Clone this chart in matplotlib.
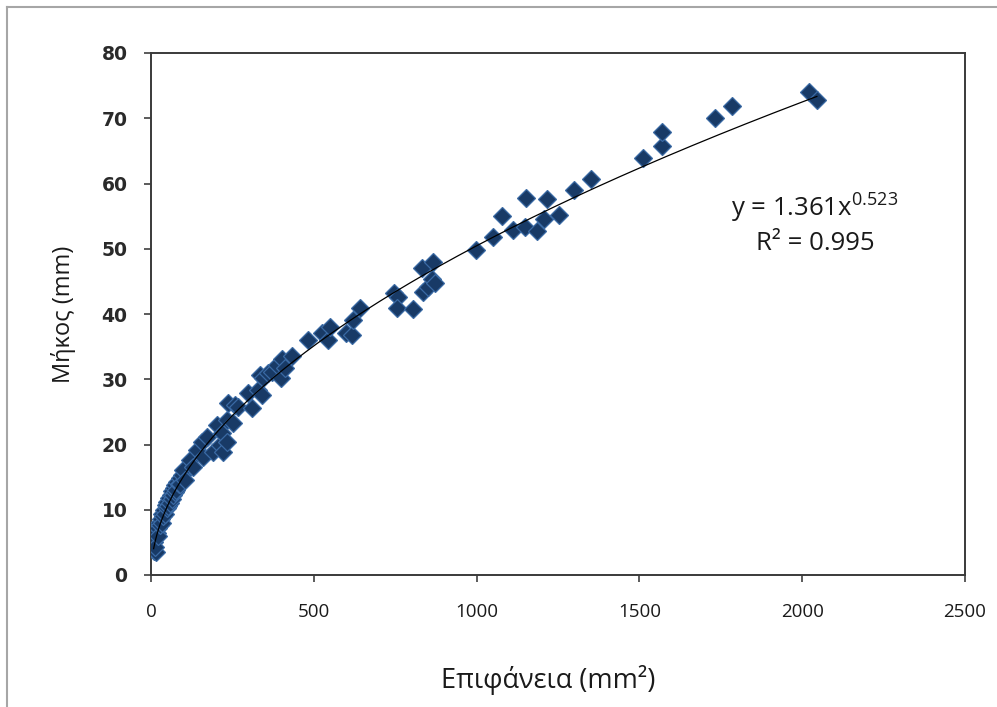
import matplotlib
matplotlib.use("Agg")
import matplotlib.pyplot as plt
from matplotlib.lines import Line2D
import numpy as np

plt.rcParams["font.family"] = ["Open Sans", "DejaVu Sans"]
plt.rcParams["mathtext.fontset"] = "custom"
plt.rcParams["mathtext.rm"] = "Open Sans"
plt.rcParams["mathtext.it"] = "Open Sans"

# surface (mm^2) vs length (mm)
area = [
    8, 15, 10, 12, 18, 20, 22, 25, 28, 30, 33, 35, 38, 40, 43, 45, 48, 50,
    53, 55, 58, 60, 63, 65, 68, 70, 73, 75, 78, 80, 85, 88, 90, 95,
    98, 104, 120, 129, 141, 157, 160, 172, 190, 203, 212, 218, 222, 233, 233,
    237, 252, 258, 267, 298, 310, 329, 335, 340, 345, 360, 371, 387, 400,
    402, 411, 433,
    482, 525, 544, 550, 600, 617, 620, 642,
    745, 760, 755, 805, 832, 835, 850, 866, 863, 872,
    998, 1050, 1078, 1112, 1149, 1152, 1185, 1207, 1216, 1253, 1299, 1351,
    1511, 1569, 1569, 1732, 1784, 2021, 2045,
]
length = [
    3.7, 3.5, 5.0, 4.3, 6.5, 7.2, 6.0, 8.0, 7.6, 8.6, 8.0, 9.4, 9.0, 10.0, 9.3, 10.8, 10.2, 11.2,
    10.6, 11.8, 11.0, 12.3, 11.6, 12.8, 12.2, 13.3, 12.7, 13.8, 13.0, 14.2, 14.0, 14.9, 13.9, 15.4,
    16.1, 14.6, 17.6, 16.6, 19.2, 20.4, 18.1, 21.2, 18.9, 23.0, 19.9, 21.8, 18.8, 20.4, 23.8,
    26.4, 23.3, 26.1, 25.8, 27.9, 25.6, 28.4, 30.6, 27.6, 30.2, 30.9, 31.1, 32.2, 30.2,
    33.1, 31.7, 33.6,
    36.0, 37.1, 36.0, 38.0, 37.1, 36.8, 39.1, 40.9,
    43.2, 42.6, 40.9, 40.8, 47.0, 43.4, 44.2, 48.0, 45.4, 44.8,
    49.8, 51.8, 55.0, 52.9, 53.4, 57.8, 52.7, 54.6, 57.6, 55.2, 59.0, 60.7,
    63.9, 65.7, 67.9, 70.0, 71.9, 74.0, 72.8,
]

coef_a = 1.361
coef_b = 0.523
r_squared = 0.995

x_ticks = [0, 500, 1000, 1500, 2000, 2500]
y_ticks = [0, 10, 20, 30, 40, 50, 60, 70, 80]

W, H = 997, 707
fig = plt.figure(figsize=(W / 100, H / 100), dpi=100)
ax = fig.add_axes([151 / W, 1 - 575 / H, (965 - 151) / W, (575 - 53) / H])

ax.plot(area, length, linestyle="none", marker="D", markersize=9,
        markerfacecolor="#183A66", markeredgecolor="#3A6AA4", markeredgewidth=0.9,
        zorder=3)

xs = np.linspace(min(area), max(area), 400)
ax.plot(xs, coef_a * xs ** coef_b, color="black", linewidth=0.9, zorder=4)

ax.set_xlim(0, 2500)
ax.set_ylim(0, 80)
ax.set_xticks(x_ticks)
ax.set_yticks(y_ticks)
ax.set_xticklabels([str(t) for t in x_ticks], fontsize=13.5, color="#1a1a1a")
ax.set_yticklabels([str(t) for t in y_ticks], fontsize=13.5, color="#2a2a2a",
                   family="DejaVu Sans", weight="bold")
ax.tick_params(axis="x", direction="out", length=5, width=1.2, pad=15, color="#404040")
ax.tick_params(axis="y", direction="out", length=5, width=1.2, pad=12, color="#404040")
for s in ax.spines.values():
    s.set_color("#3a3a3a")
    s.set_linewidth(1.4)

fig.text(548 / W, 1 - 680 / H, "Επιφάνεια (mm²)", fontsize=19.5,
         ha="center", va="center", color="#1a1a1a")
fig.text(63 / W, 1 - 314 / H, "Μήκος (mm)", fontsize=17, rotation=90,
         ha="center", va="center", color="#1a1a1a")

fig.text(815 / W, 1 - 208 / H, r"y = %.3fx$^{%.3f}$" % (coef_a, coef_b),
         fontsize=18.5, ha="center", va="center", color="#1a1a1a")
fig.text(815 / W, 1 - 243 / H, "R² = %.3f" % r_squared,
         fontsize=18.5, ha="center", va="center", color="#1a1a1a")

# outer chart frame (only left and top edges visible)
fig.add_artist(Line2D([7 / W, 7 / W], [0, 1 - 7 / H], transform=fig.transFigure,
                      color="#a6a6a6", linewidth=1.5))
fig.add_artist(Line2D([7 / W, 1], [1 - 7 / H, 1 - 7 / H], transform=fig.transFigure,
                      color="#a6a6a6", linewidth=1.5))

fig.savefig("out.png", dpi=100)
